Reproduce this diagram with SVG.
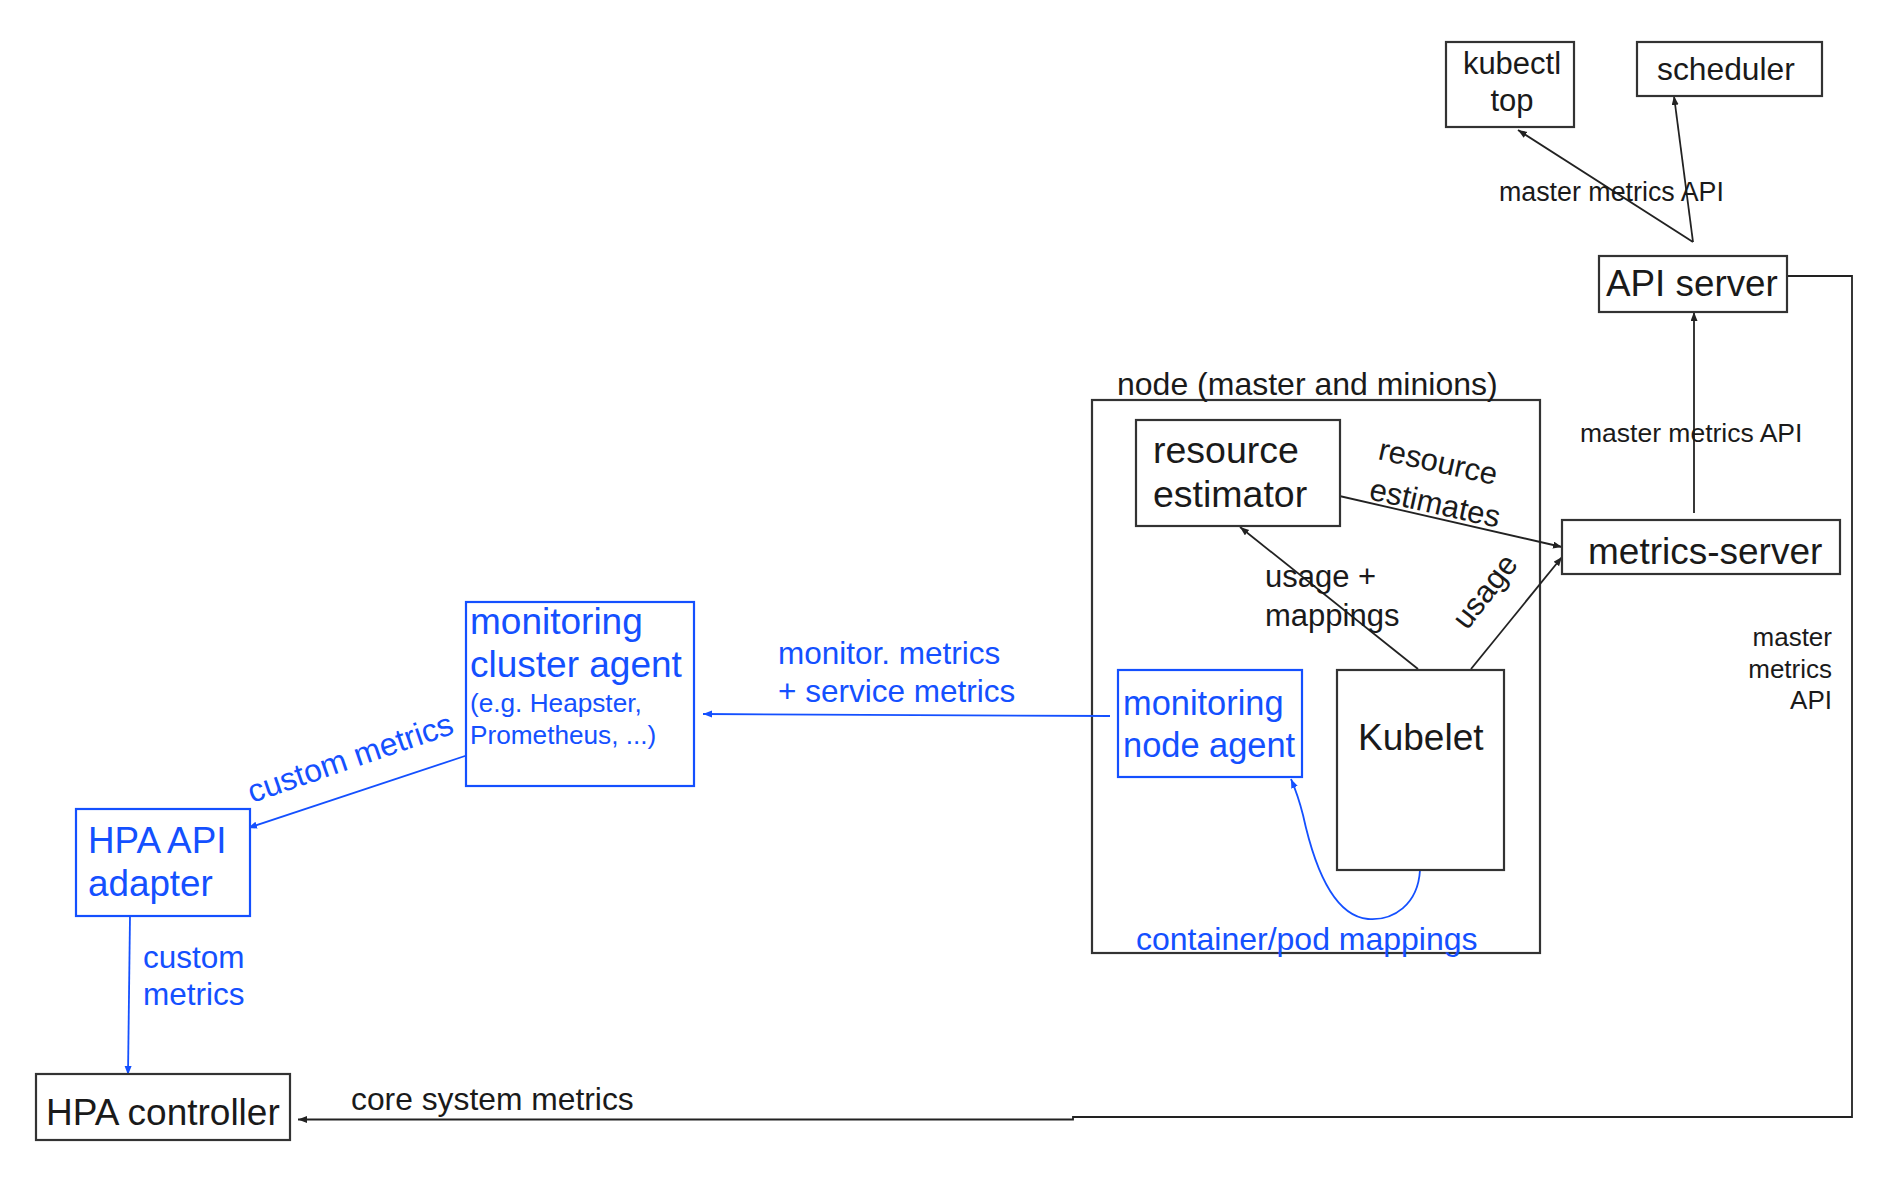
<svg xmlns="http://www.w3.org/2000/svg" width="1888" height="1180" viewBox="0 0 1888 1180">
<defs>
<style>
text{font-family:"Liberation Sans",Arial,sans-serif;}
.box{fill:#fff;stroke:#333;stroke-width:2.2;}
.bbox{fill:#fff;stroke:#1450ff;stroke-width:2.2;}
.t{fill:#1a1a1a;}
.b{fill:#1450ff;}
.ln{fill:none;stroke:#222;stroke-width:1.8;}
.bl{fill:none;stroke:#1450ff;stroke-width:1.8;}
</style>
<marker id="ah" markerUnits="userSpaceOnUse" markerWidth="10" markerHeight="8" refX="9" refY="3.5" orient="auto"><path d="M0,0 L9,3.5 L0,7 z" fill="#222"/></marker>
<marker id="ahb" markerUnits="userSpaceOnUse" markerWidth="10" markerHeight="8" refX="9" refY="3.5" orient="auto"><path d="M0,0 L9,3.5 L0,7 z" fill="#1450ff"/></marker>
</defs>
<rect width="1888" height="1180" fill="#fff"/>

<g id="node-frame">
<rect class="box" x="1092" y="400" width="448" height="553" fill="none"/>
<text class="t" x="1117" y="395" font-size="32">node (master and minions)</text>
</g>

<g id="connectors">
<line class="ln" x1="1693" y1="242" x2="1518" y2="130" marker-end="url(#ah)"/>
<line class="ln" x1="1693" y1="242" x2="1674" y2="96" marker-end="url(#ah)"/>
<line class="ln" x1="1694" y1="513" x2="1694" y2="312" marker-end="url(#ah)"/>
<polyline class="ln" points="1787,276 1852,276 1852,1117 1073,1117 1073,1119.5 298,1119.5" marker-end="url(#ah)"/>
<line class="ln" x1="1335" y1="495" x2="1562" y2="547" marker-end="url(#ah)"/>
<line class="ln" x1="1418" y1="669" x2="1240" y2="527" marker-end="url(#ah)"/>
<line class="ln" x1="1471" y1="669" x2="1562" y2="557" marker-end="url(#ah)"/>
<line class="bl" x1="1110" y1="716" x2="703" y2="714" marker-end="url(#ahb)"/>
<path class="bl" d="M1420,870 C1418,905 1393,921 1368,919 C1335,916 1315,870 1303,815 C1298,795 1294,786 1291,779" marker-end="url(#ahb)"/>
<line class="bl" x1="468" y1="755" x2="248" y2="828" marker-end="url(#ahb)"/>
<line class="bl" x1="130" y1="916" x2="128" y2="1075" marker-end="url(#ahb)"/>
</g>

<g id="connector-labels">
<text class="t" x="1499" y="201" font-size="26.8">master metrics API</text>
<text class="t" x="1580" y="442" font-size="26.5">master metrics API</text>
<text class="t" font-size="26" text-anchor="end"><tspan x="1832" y="646">master</tspan><tspan x="1832" y="678">metrics</tspan><tspan x="1832" y="709">API</tspan></text>
<text class="t" font-size="31" transform="rotate(12.5 1377 459)"><tspan x="1377" y="459">resource</tspan></text>
<text class="t" font-size="31" transform="rotate(12.5 1368 499)"><tspan x="1368" y="499">estimates</tspan></text>
<text class="t" font-size="31"><tspan x="1265" y="587">usage +</tspan><tspan x="1265" y="626">mappings</tspan></text>
<text class="t" font-size="31" x="1467" y="631" transform="rotate(-52 1467 631)">usage</text>
<text class="b" font-size="32" x="1136" y="950">container/pod mappings</text>
<text class="b" font-size="31.5"><tspan x="778" y="664">monitor. metrics</tspan><tspan x="778" y="702">+ service metrics</tspan></text>
<text class="b" font-size="32" x="252" y="803" transform="rotate(-19 252 803)">custom metrics</text>
<text class="b" font-size="31.5"><tspan x="143" y="968">custom</tspan><tspan x="143" y="1005">metrics</tspan></text>
<text class="t" font-size="31.8" x="351" y="1110">core system metrics</text>
</g>

<g id="kubectl-top">
<rect class="box" x="1446" y="42" width="128" height="85"/>
<text class="t" font-size="31" text-anchor="middle"><tspan x="1512" y="74">kubectl</tspan><tspan x="1512" y="111">top</tspan></text>
</g>

<g id="scheduler">
<rect class="box" x="1637" y="42" width="185" height="54"/>
<text class="t" font-size="31.8" x="1657" y="80">scheduler</text>
</g>

<g id="api-server">
<rect class="box" x="1599" y="256" width="188" height="56"/>
<text class="t" font-size="36.8" x="1606" y="296">API server</text>
</g>

<g id="metrics-server">
<rect class="box" x="1562" y="520" width="278" height="54"/>
<text class="t" font-size="37" x="1588" y="564">metrics-server</text>
</g>

<g id="resource-estimator">
<rect class="box" x="1136" y="420" width="204" height="106"/>
<text class="t" font-size="37.5"><tspan x="1153" y="463">resource</tspan><tspan x="1153" y="507">estimator</tspan></text>
</g>

<g id="kubelet">
<rect class="box" x="1337" y="670" width="167" height="200"/>
<text class="t" font-size="37" x="1358" y="750">Kubelet</text>
</g>

<g id="monitoring-node-agent">
<rect class="bbox" x="1118" y="670" width="184" height="107"/>
<text class="b" font-size="34.4"><tspan x="1123" y="715">monitoring</tspan><tspan x="1123" y="757">node agent</tspan></text>
</g>

<g id="monitoring-cluster-agent">
<rect class="bbox" x="466" y="602" width="228" height="184"/>
<text class="b" font-size="37"><tspan x="470" y="634">monitoring</tspan><tspan x="470" y="677">cluster agent</tspan></text>
<text class="b" font-size="26.2"><tspan x="470" y="712">(e.g. Heapster,</tspan><tspan x="470" y="744">Prometheus, ...)</tspan></text>
</g>

<g id="hpa-api-adapter">
<rect class="bbox" x="76" y="809" width="174" height="107"/>
<text class="b" font-size="36.8"><tspan x="88" y="853">HPA API</tspan><tspan x="88" y="896">adapter</tspan></text>
</g>

<g id="hpa-controller">
<rect class="box" x="36" y="1074" width="254" height="66"/>
<text class="t" font-size="37" x="46" y="1125">HPA controller</text>
</g>
</svg>
